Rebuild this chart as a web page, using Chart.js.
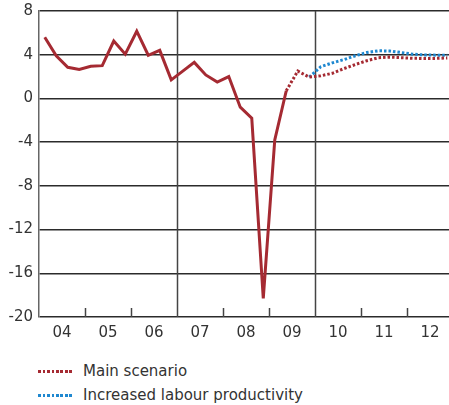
<!DOCTYPE html>
<html>
<head>
<meta charset="utf-8">
<script src="https://cdn.jsdelivr.net/npm/chart.js@4/dist/chart.umd.min.js"></script>
<style>
  html, body { margin: 0; padding: 0; background: #fff; }
  #wrap { position: relative; width: 449px; height: 405px; font-family: "DejaVu Sans", sans-serif; }
  #box { position: absolute; left: 0; top: 0; width: 449px; height: 340px; }
  .leg { position: absolute; left: 38px; height: 20px; font-size: 15px; color: #333; line-height: 20px; }
  .leg .mark { position: absolute; left: 0; top: 9px; width: 34px; height: 3px; }
  .leg .txt { position: absolute; left: 45px; top: 0; white-space: nowrap; }
</style>
</head>
<body>
<div id="wrap">
  <div id="box"><canvas id="myChart"></canvas></div>
  <div class="leg" style="top:361px"><span class="mark" id="markMain"></span><span class="txt">Main scenario</span></div>
  <div class="leg" style="top:385px"><span class="mark" id="markProd"></span><span class="txt">Increased labour productivity</span></div>
</div>
<script>
// quarterly growth, 2004Q1 - 2012Q4
const yearLabels = ['04', '05', '06', '07', '08', '09', '10', '11', '12']

// outcome 04Q1 - 09Q2
const historic = [5.6, 3.9, 2.85, 2.65, 2.95, 3.0, 5.25, 4.05, 6.15, 3.95, 4.4, 1.7,
  2.5, 3.3, 2.15, 1.5, 2.0, -0.8, -1.8, -18.3, -3.8, 0.7]
const historicStart = 0

// main scenario 09Q2 - 12Q4
const mainScenario = [0.7, 2.5, 1.95, 2.07, 2.3, 2.72, 3.1, 3.45, 3.72, 3.78, 3.73, 3.67, 3.66, 3.66, 3.71]
const mainStart = 21

// increased labour productivity 09Q4 - 12Q4
const labourProd = [1.95, 2.9, 3.25, 3.55, 3.9, 4.2, 4.36, 4.34, 4.2, 4.05, 3.98, 3.96, 3.96]
const labourStart = 23

const red = '#a52a32'
const blue = '#1f88d0'

function toPoints(values, start) {
  return values.map((v, i) => ({ x: start + i + 0.5, y: v }))
}

function dots(color) {
  return 'repeating-linear-gradient(to right, ' + color + ' 0 2.5px, transparent 2.5px 4.5px)'
}
document.getElementById('markMain').style.background = dots(red)
document.getElementById('markProd').style.background = dots(blue)

// vertical lines at 06/07 and 09/10, small ticks at other year boundaries
const yearLines = {
  id: 'yearLines',
  beforeDatasetsDraw(chart) {
    const { ctx, chartArea, scales } = chart
    ctx.save()
    ctx.strokeStyle = '#444'
    ctx.lineWidth = 1.5
    for (let q = 4; q < 36; q += 4) {
      const x = Math.round(scales.x.getPixelForValue(q)) + 0.5
      ctx.beginPath()
      if (q === 12 || q === 24) {
        ctx.moveTo(x, chartArea.top)
      } else {
        ctx.moveTo(x, chartArea.bottom - 9)
      }
      ctx.lineTo(x, chartArea.bottom)
      ctx.stroke()
    }
    ctx.restore()
  }
}

new Chart(document.getElementById('myChart'), {
  type: 'line',
  data: {
    datasets: [{
      label: 'Outcome',
      data: toPoints(historic, historicStart),
      borderColor: red,
      borderWidth: 3,
      pointRadius: 0,
      tension: 0
    }, {
      label: 'Main scenario',
      data: toPoints(mainScenario, mainStart),
      borderColor: red,
      borderWidth: 3,
      borderDash: [2.5, 2],
      pointRadius: 0,
      tension: 0
    }, {
      label: 'Increased labour productivity',
      data: toPoints(labourProd, labourStart),
      borderColor: blue,
      borderWidth: 3,
      borderDash: [2.5, 2],
      pointRadius: 0,
      tension: 0
    }]
  },
  options: {
    responsive: true,
    maintainAspectRatio: false,
    animation: false,
    layout: { padding: { top: 11, right: 0, left: 0, bottom: 0 } },
    plugins: {
      legend: { display: false },
      tooltip: { enabled: false }
    },
    scales: {
      x: {
        type: 'linear',
        min: 0,
        max: 35.65,
        grid: { display: false, drawTicks: false },
        border: { display: false },
        afterBuildTicks: (s) => {
          s.ticks = yearLabels.map((l, i) => ({ value: i * 4 + 2 }))
        },
        afterFit: (s) => {
          s.height = 23
          s.paddingLeft = 0
          s.paddingRight = 0
        },
        ticks: {
          autoSkip: false,
          maxRotation: 0,
          padding: 7,
          color: '#333',
          font: { family: 'DejaVu Sans', size: 15 },
          callback: (v, i) => yearLabels[i]
        }
      },
      y: {
        min: -20,
        max: 8,
        grid: { color: '#2b2b2b', lineWidth: 1.5, drawTicks: false },
        border: { display: true, color: '#666', width: 1.5 },
        afterFit: (s) => {
          s.width = 39
          s.paddingTop = 0
          s.paddingBottom = 0
        },
        ticks: {
          stepSize: 4,
          padding: 6,
          color: '#333',
          font: { family: 'DejaVu Sans', size: 15 }
        }
      }
    }
  },
  plugins: [yearLines]
});
</script>
</body>
</html>
